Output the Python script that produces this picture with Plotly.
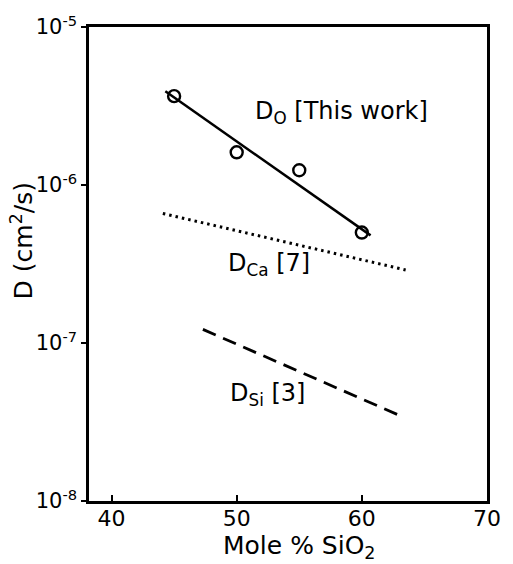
import plotly.graph_objects as go

# Data
do_x = [45, 50, 55, 60]
do_y = [3.65e-6, 1.61e-6, 1.24e-6, 5.0e-7]
fit_x = [44.3, 60.7]
fit_y = [3.92e-6, 4.8e-7]
dca_x = [44.1, 63.5]
dca_y = [6.6e-7, 2.9e-7]
dsi_x = [47.3, 63.3]
dsi_y = [1.22e-7, 3.4e-8]
xticks = [40, 50, 60, 70]
yticks = [1e-8, 1e-7, 1e-6, 1e-5]
yticktext = ["10<sup>-8</sup>", "10<sup>-7</sup>", "10<sup>-6</sup>", "10<sup>-5</sup>"]

FONT = "DejaVu Sans"
fig = go.Figure()
fig.add_trace(go.Scatter(x=fit_x, y=fit_y, mode="lines",
                         line=dict(color="black", width=2.5), showlegend=False))
fig.add_trace(go.Scatter(x=do_x, y=do_y, mode="markers",
                         marker=dict(symbol="circle-open", size=12, color="black",
                                     line=dict(width=2.4, color="black")),
                         showlegend=False))
fig.add_trace(go.Scatter(x=dca_x, y=dca_y, mode="lines",
                         line=dict(color="black", width=3, dash="2.5px,4px"), showlegend=False))
fig.add_trace(go.Scatter(x=dsi_x, y=dsi_y, mode="lines",
                         line=dict(color="black", width=2.8, dash="14px,8px"), showlegend=False))

ann_font = dict(family=FONT, size=24, color="black")
fig.add_annotation(x=58.4, y=-5.54, text="D<sub>O</sub> [This work]", showarrow=False, font=ann_font)
fig.add_annotation(x=52.6, y=-6.506, text="D<sub>Ca</sub> [7]", showarrow=False, font=ann_font)
fig.add_annotation(x=52.5, y=-7.325, text="D<sub>Si</sub> [3]", showarrow=False, font=ann_font)

# axis titles
fig.add_annotation(xref="paper", yref="paper", x=0.528, y=-0.098, text="Mole % SiO<sub>2</sub>",
                   showarrow=False, font=dict(family=FONT, size=25, color="black"),
                   xanchor="center", yanchor="middle")
fig.add_annotation(xref="paper", yref="paper", x=-0.168, y=0.548, text="D (cm<sup>2</sup>/s)",
                   showarrow=False, textangle=-90, font=dict(family=FONT, size=25, color="black"),
                   xanchor="center", yanchor="middle")

fig.update_layout(
    width=513, height=564,
    margin=dict(l=89, r=17, t=22, b=63),
    plot_bgcolor="white", paper_bgcolor="white",
    font=dict(family=FONT, color="black"),
    xaxis=dict(range=[38.2, 70], tickvals=xticks, ticks="inside", ticklen=6, tickwidth=2,
               tickcolor="black", showgrid=False, zeroline=False, showline=True, linewidth=2.5,
               linecolor="black", mirror=True, tickfont=dict(family=FONT, size=22),
               ticklabelstandoff=-4),
    yaxis=dict(type="log", range=[-8, -5], tickvals=yticks, ticktext=yticktext,
               ticks="outside", ticklen=5, tickwidth=2, tickcolor="black", showgrid=False,
               zeroline=False, showline=True, linewidth=2.5, linecolor="black", mirror=True,
               tickfont=dict(family=FONT, size=21)),
)
fig.write_html("out.html")
